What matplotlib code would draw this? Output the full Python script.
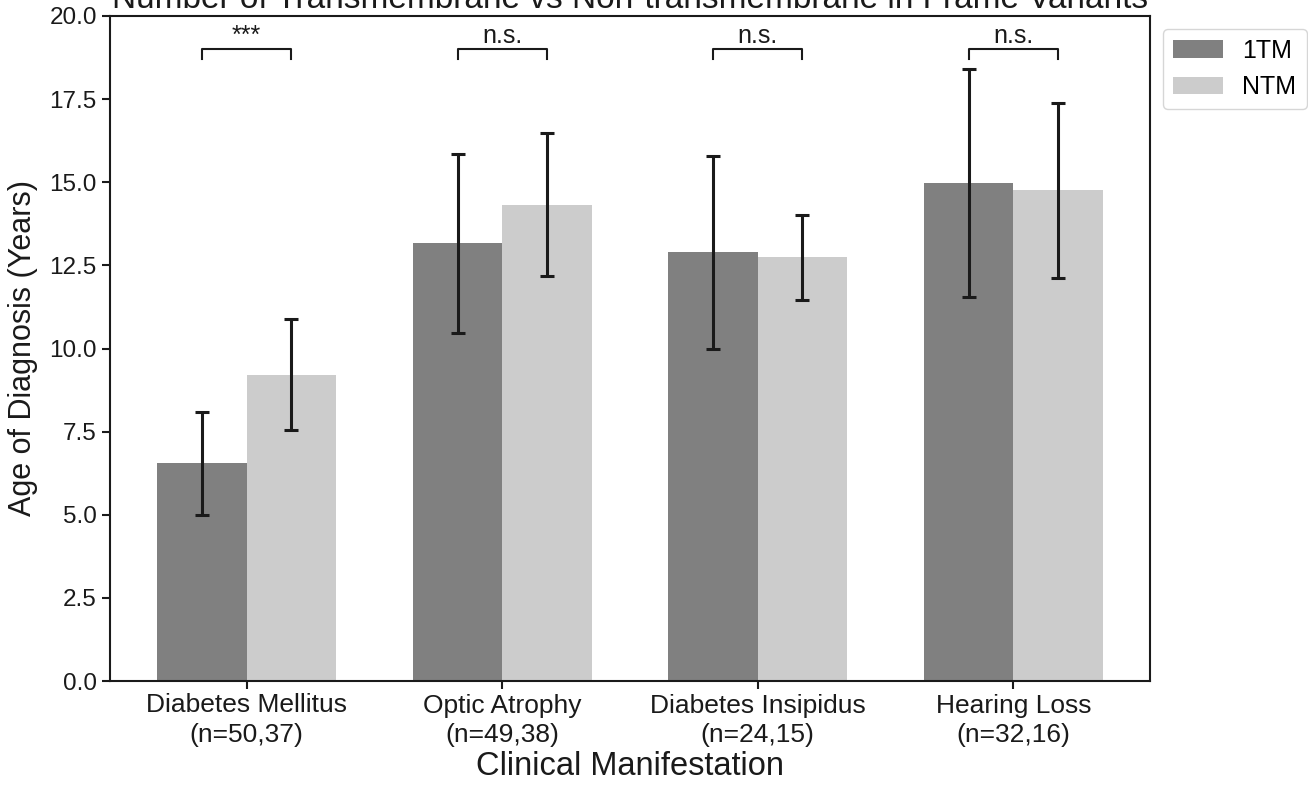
import numpy as np
import matplotlib
matplotlib.use('Agg')
import matplotlib.pyplot as plt

plt.rcParams['font.family'] = ['Liberation Sans', 'DejaVu Sans']

# data
categories = ['Diabetes Mellitus', 'Optic Atrophy', 'Diabetes Insipidus', 'Hearing Loss']
n_counts = ['(n=50,37)', '(n=49,38)', '(n=24,15)', '(n=32,16)']
mean_1tm = [6.55, 13.16, 12.90, 14.98]
err_1tm = [1.55, 2.68, 2.90, 3.42]
mean_ntm = [9.21, 14.33, 12.75, 14.76]
err_ntm = [1.67, 2.14, 1.28, 2.63]
sig_labels = ['***', 'n.s.', 'n.s.', 'n.s.']

fig = plt.figure(figsize=(13.08, 7.85), dpi=100)
ax = fig.add_axes([110 / 1308, 104 / 785, 1040 / 1308, 665 / 785])

x = np.arange(len(categories))
w = 0.35
ekw = dict(ecolor='#1a1a1a', elinewidth=2.2, capsize=5, capthick=2.2)
ax.bar(x - w / 2, mean_1tm, w, yerr=err_1tm, color='#808080', label='1TM', error_kw=ekw)
ax.bar(x + w / 2, mean_ntm, w, yerr=err_ntm, color='#cccccc', label='NTM', error_kw=ekw)

# significance brackets
y0, h = 18.7, 0.3
for i, lab in enumerate(sig_labels):
    x1, x2 = x[i] - w / 2, x[i] + w / 2
    ax.plot([x1, x1, x2, x2], [y0, y0 + h, y0 + h, y0], color='#1a1a1a', lw=1.5)
    ax.text(x[i], y0 + h + 0.05, lab, ha='center', va='bottom', fontsize=18, color='#1a1a1a')

ax.set_ylim(0, 20)
ax.set_yticks(np.arange(0, 20.1, 2.5))
ax.set_xticks(x)
ax.set_xticklabels([c + '\n' + n for c, n in zip(categories, n_counts)], linespacing=1.3)
ax.tick_params(width=1.5, length=6, color='#1a1a1a', labelcolor='#1a1a1a')
ax.tick_params(axis='x', labelsize=19, pad=3)
ax.tick_params(axis='y', labelsize=17.5)
for s in ax.spines.values():
    s.set_linewidth(1.5)
    s.set_color('#1a1a1a')

ax.set_xlabel('Clinical Manifestation', fontsize=23.5, color='#1a1a1a', labelpad=3)
ax.set_ylabel('Age of Diagnosis (Years)', fontsize=22, color='#1a1a1a', labelpad=8)
ax.set_title('Number of Transmembrane vs Non-transmembrane in Frame Variants', fontsize=24, color='#1a1a1a')
ax.legend(loc='upper left', bbox_to_anchor=(1, 1), fontsize=18, handlelength=2.0)

fig.savefig('out.png', dpi=100)
